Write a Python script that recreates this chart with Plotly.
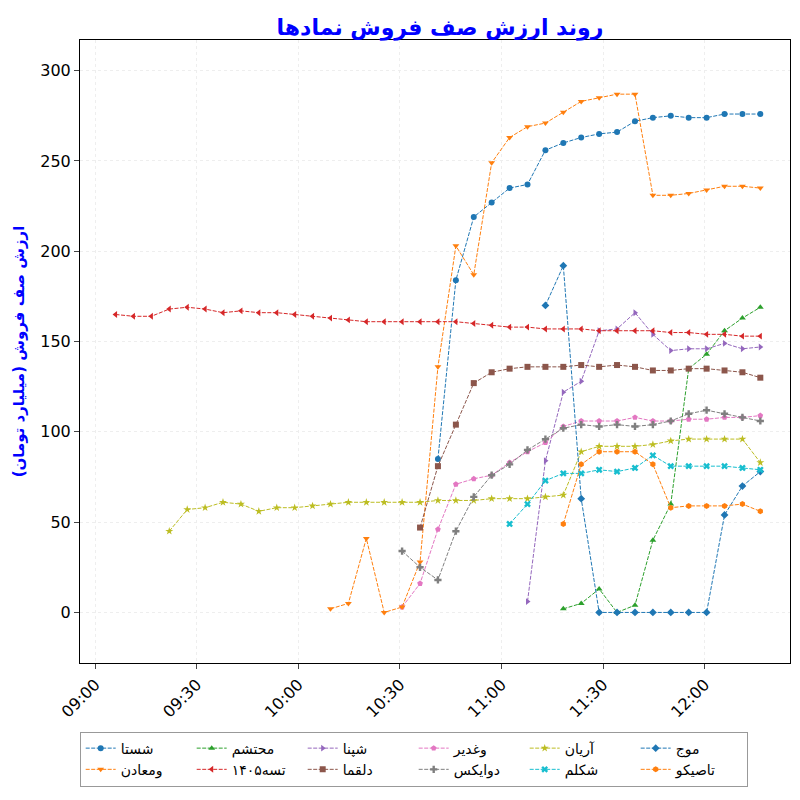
import plotly.graph_objects as go

times = ["09:06:00","09:11:17","09:16:35","09:21:52","09:27:10","09:32:27","09:37:44","09:43:02",
"09:48:19","09:53:37","09:58:54","10:04:11","10:09:29","10:14:46","10:20:04","10:25:21","10:30:38",
"10:35:56","10:41:13","10:46:31","10:51:48","10:57:05","11:02:23","11:07:40","11:12:58","11:18:15",
"11:23:32","11:28:50","11:34:07","11:39:25","11:44:42","11:49:59","11:55:17","12:00:34","12:05:52",
"12:11:09","12:16:26"]
N = None
shasta = [N]*18 + [85,184,219,227,235,237,256,260,263,265,266,272,274,275,274,274,276,276,276]
vamaaden = [N]*12 + [2,5,41,0,3,28,136,203,187,249,263,269,271,277,283,285,287,287,231,231,232,234,236,236,235]
mohtasham = [N]*25 + [2,5,13,0,4,40,60,135,143,156,163,169]
tase = [165,164,164,168,169,168,166,167,166,166,165,164,163,162,161,161,161,161,161,161,160,159,158,158,157,157,157,156,156,156,156,155,155,154,154,153,153]
shepna = [N]*23 + [6,84,122,128,156,157,166,154,145,146,146,149,146,147]
dalgama = [N]*17 + [47,81,104,127,133,135,136,136,136,137,136,137,136,134,134,135,135,134,133,130]
vaghadir = [N]*16 + [3,16,46,71,74,76,83,89,94,103,106,106,106,108,106,106,107,107,108,108,109]
davaix = [N]*16 + [34,25,18,45,64,76,82,90,96,102,104,103,104,103,104,106,110,112,110,108,106]
arian = [N]*3 + [45,57,58,61,60,56,58,58,59,60,61,61,61,61,61,62,62,62,63,63,63,64,65,89,92,92,92,93,95,96,96,96,96,83]
shekalam = [N]*22 + [49,60,73,77,77,79,78,80,87,81,81,81,81,80,79]
moj = [N]*24 + [170,192,63,0,0,0,0,0,0,0,54,70,78]
taseko = [N]*25 + [49,82,89,89,89,82,58,59,59,59,60,56]

x = ["2024-01-01 " + t for t in times]
series = [
    ("شستا", shasta, "#1f77b4", "circle"),
    ("محتشم", mohtasham, "#2ca02c", "triangle-up"),
    ("شپنا", shepna, "#9467bd", "triangle-right"),
    ("وغدیر", vaghadir, "#e377c2", "pentagon"),
    ("آریان", arian, "#bcbd22", "star"),
    ("موج", moj, "#1f77b4", "diamond"),
    ("ومعادن", vamaaden, "#ff7f0e", "triangle-down"),
    ("تسه۱۴۰۵", tase, "#d62728", "triangle-left"),
    ("دلقما", dalgama, "#8c564b", "square"),
    ("دوایکس", davaix, "#7f7f7f", "cross"),
    ("شکلم", shekalam, "#17becf", "x"),
    ("تاصیکو", taseko, "#ff7f0e", "hexagon"),
]
fig = go.Figure()
for name, vals, col, sym in series:
    fig.add_trace(go.Scatter(x=x, y=vals, name=name, mode="lines+markers",
        line=dict(color=col, width=1, dash="4px,1.5px"), marker=dict(color=col, symbol=sym, size=6),
        connectgaps=False))
fig.update_layout(
    width=800, height=800, template="plotly_white",
    font=dict(family="DejaVu Sans", size=14, color="black"),
    margin=dict(l=72, r=18, t=32, b=145),
    title=dict(text="<b>روند ارزش صف فروش نمادها</b>", x=0.54, y=0.985, xanchor="center",
               font=dict(size=22, color="blue")),
    legend=dict(orientation="h", x=0.47, xanchor="center", y=-0.11, yanchor="top",
                entrywidth=66, bordercolor="#999", borderwidth=1, font=dict(size=14),
                tracegroupgap=4),
    xaxis=dict(range=["2024-01-01 08:55:30", "2024-01-01 12:25:12"], tickformat="%H:%M",
               dtick=1800000, tick0="2024-01-01 09:00", tickangle=-45, showline=True, mirror=True,
               linecolor="black", ticks="outside", gridcolor="#eeeeee", griddash="dot", zeroline=False,
               tickfont=dict(size=16), automargin=False),
    yaxis=dict(range=[-28, 317], dtick=50, showline=True, mirror=True, linecolor="black",
               ticks="outside", gridcolor="#eeeeee", griddash="dot", zeroline=False,
               tickfont=dict(size=16), automargin=False,
               title=dict(text="<b>ارزش صف فروش (میلیارد تومان)</b>", standoff=12,
                          font=dict(size=15, color="blue"))),
)
fig.write_html("out.html")
